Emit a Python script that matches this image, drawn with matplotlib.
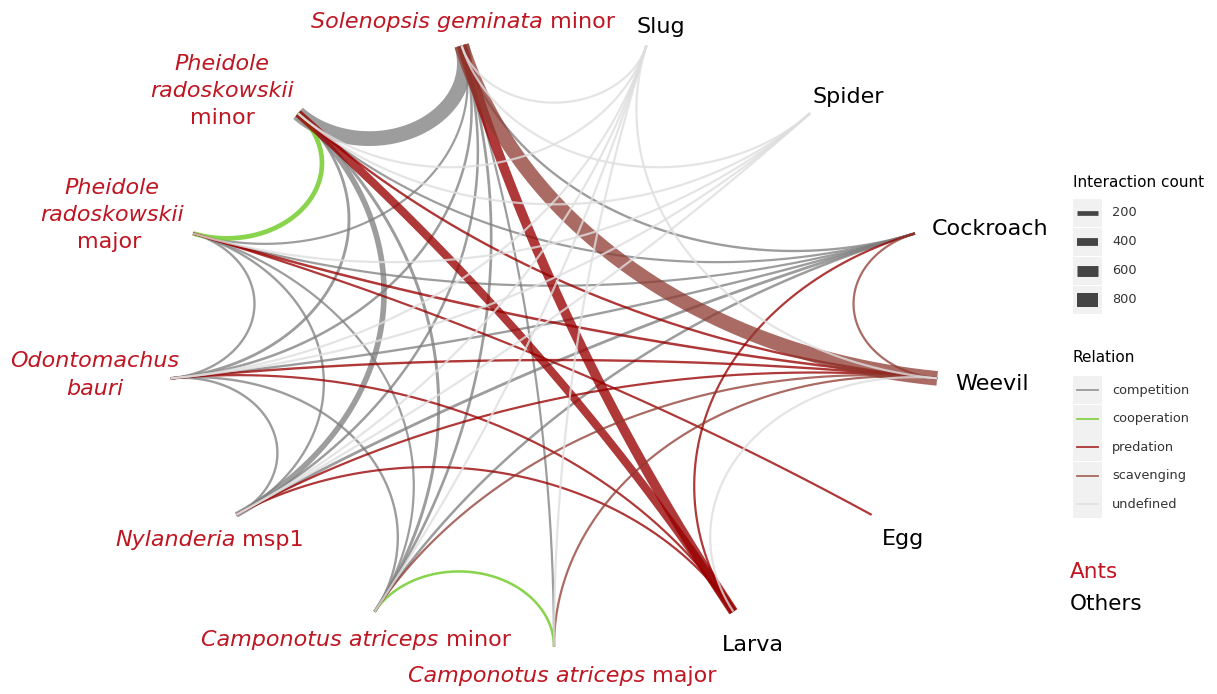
import numpy as np
import matplotlib
matplotlib.use("Agg")
import matplotlib.pyplot as plt
from matplotlib.patches import Rectangle

# ---------------- data ----------------
node_keys = ["CAmaj", "Larva", "Egg", "Weevil", "Cockroach", "Spider", "Slug",
             "SGmin", "PRmin", "PRmaj", "OB", "Nyl", "CAmin"]
node_is_ant = [True, False, False, False, False, False, False,
               True, True, True, True, True, True]

edge_from = ["SGmin", "SGmin", "SGmin", "SGmin", "SGmin", "SGmin",
             "PRmin", "PRmin", "PRmin", "PRmin",
             "PRmaj", "PRmaj", "PRmaj", "PRmaj",
             "OB", "OB", "OB", "Nyl", "CAmin", "SGmin",
             "PRmin", "CAmin",
             "SGmin", "PRmin", "PRmaj", "PRmaj", "OB", "OB", "Nyl", "Nyl", "PRmin", "Cockroach",
             "SGmin", "CAmaj", "CAmin", "Cockroach",
             "Slug", "Slug", "Slug", "Slug", "Slug", "Slug", "Slug",
             "Spider", "Spider", "Spider", "Spider", "Spider", "Weevil"]
edge_to = ["PRmin", "PRmaj", "OB", "Nyl", "CAmin", "Cockroach",
           "OB", "Nyl", "CAmin", "Cockroach",
           "OB", "Nyl", "CAmin", "Cockroach",
           "Nyl", "CAmin", "Cockroach", "Cockroach", "Cockroach", "CAmaj",
           "PRmaj", "CAmaj",
           "Larva", "Larva", "Weevil", "Egg", "Weevil", "Larva", "Weevil", "Larva", "Weevil", "Larva",
           "Weevil", "Weevil", "Weevil", "Weevil",
           "SGmin", "PRmin", "OB", "Nyl", "CAmin", "CAmaj", "Weevil",
           "SGmin", "PRmin", "PRmaj", "OB", "Nyl", "Larva"]
edge_relation = (["competition"] * 20 + ["cooperation"] * 2 + ["predation"] * 10
                 + ["scavenging"] * 4 + ["undefined"] * 13)
edge_count = [850, 40, 60, 60, 70, 50,
              80, 260, 90, 40,
              50, 50, 40, 40,
              50, 50, 50, 80, 60, 40,
              200, 60,
              520, 420, 60, 40, 50, 40, 40, 40, 50, 40,
              840, 40, 40, 40,
              40, 40, 40, 40, 40, 40, 40,
              40, 40, 40, 40, 40, 40]

legend_counts = [200, 400, 600, 800]
relations = ["competition", "cooperation", "predation", "scavenging", "undefined"]

# ---------------- styles ----------------
rel_color = {"competition": ("#7d7d7d", 0.75),
             "cooperation": ("#74cc2e", 0.85),
             "predation": ("#990000", 0.78),
             "scavenging": ("#8e3a30", 0.75),
             "undefined": ("#dedede", 0.8)}
ANT_RED = "#be1622"

W, H = 1217, 694
CX, CY, RX, RY = 554.0, 341.6, 386.0, 305.0

fig = plt.figure(figsize=(W / 100, H / 100), dpi=100)
ax = fig.add_axes([0, 0, 1, 1])
ax.set_xlim(0, W)
ax.set_ylim(H, 0)
ax.axis("off")

n = len(node_keys)
angles = {k: np.deg2rad(-90 + i * 360.0 / n) for i, k in enumerate(node_keys)}


def to_px(u, v):
    return CX + RX * u, CY - RY * v


def geodesic(a, b, npts=200):
    p1 = np.array([np.cos(a), np.sin(a)])
    p2 = np.array([np.cos(b), np.sin(b)])
    d = (b - a + np.pi) % (2 * np.pi) - np.pi
    if abs(abs(d) - np.pi) < 1e-3:
        t = np.linspace(0, 1, npts)
        pts = p1[None, :] * (1 - t)[:, None] + p2[None, :] * t[:, None]
        return pts[:, 0], pts[:, 1]
    m = a + d / 2
    half = abs(d) / 2
    c = np.array([np.cos(m), np.sin(m)]) / np.cos(half)
    r = np.tan(half)
    f1 = np.arctan2(*(p1 - c)[::-1])
    f2 = np.arctan2(*(p2 - c)[::-1])
    df = (f2 - f1 + np.pi) % (2 * np.pi) - np.pi
    f = f1 + np.linspace(0, 1, npts) * df
    return c[0] + r * np.cos(f), c[1] + r * np.sin(f)


def width_pt(count):
    return (1.6 + 0.0155 * count) * 0.72


order = ["competition", "cooperation", "predation", "scavenging", "undefined"]
for rel in order:
    for f, t, rr, cnt in zip(edge_from, edge_to, edge_relation, edge_count):
        if rr != rel:
            continue
        u, v = geodesic(angles[f], angles[t])
        x, y = to_px(u, v)
        col, al = rel_color[rel]
        ax.plot(x, y, color=col, alpha=al, lw=width_pt(cnt),
                solid_capstyle="butt", zorder=2)

# ---------------- labels ----------------
renderer = fig.canvas.get_renderer()
LBL = 16


def mixed(x, y, parts, ha, color, size=LBL):
    texts, widths = [], []
    for s, st in parts:
        t = ax.text(0, 0, s, fontsize=size, style=st, color=color,
                    va="center", ha="left", zorder=5)
        widths.append(t.get_window_extent(renderer=renderer).width)
        texts.append(t)
    total = sum(widths)
    x0 = x - total / 2 if ha == "center" else (x - total if ha == "right" else x)
    for t, w in zip(texts, widths):
        t.set_position((x0, y))
        x0 += w


I, N = "italic", "normal"
mixed(463, 22, [("Solenopsis geminata", I), (" minor", N)], "center", ANT_RED)
mixed(222, 64, [("Pheidole", I)], "center", ANT_RED)
mixed(222, 91, [("radoskowskii", I)], "center", ANT_RED)
mixed(222, 118, [("minor", N)], "center", ANT_RED)
mixed(112, 188, [("Pheidole", I)], "center", ANT_RED)
mixed(112, 215, [("radoskowskii", I)], "center", ANT_RED)
mixed(109, 242, [("major", N)], "center", ANT_RED)
mixed(95, 361, [("Odontomachus", I)], "center", ANT_RED)
mixed(95, 389, [("bauri", I)], "center", ANT_RED)
mixed(304, 540, [("Nylanderia", I), (" msp1", N)], "right", ANT_RED)
mixed(356, 640, [("Camponotus atriceps", I), (" minor", N)], "center", ANT_RED)
mixed(562, 676, [("Camponotus atriceps", I), (" major", N)], "center", ANT_RED)
mixed(636, 27, [("Slug", N)], "left", "black")
mixed(812, 97, [("Spider", N)], "left", "black")
mixed(932, 229, [("Cockroach", N)], "left", "black")
mixed(955, 384, [("Weevil", N)], "left", "black")
mixed(882, 539, [("Egg", N)], "left", "black")
mixed(722, 645, [("Larva", N)], "left", "black")

# ---------------- legends ----------------
KEYBG = "#f1f1f1"
ax.text(1073, 182, "Interaction count", fontsize=11, va="center", ha="left", color="black")
for i, c in enumerate(legend_counts):
    yc = 213 + i * 29
    ax.add_patch(Rectangle((1073, yc - 14), 29, 28, facecolor=KEYBG, edgecolor="none", zorder=1))
    ax.plot([1077, 1098], [yc, yc], color="#444444", lw=width_pt(c), solid_capstyle="butt", zorder=3)
    ax.text(1112, yc - 1, str(c), fontsize=9.3, va="center", ha="left", color="#333333")

ax.text(1073, 357, "Relation", fontsize=11, va="center", ha="left", color="black")
for i, rel in enumerate(relations):
    yc = 390 + i * 28.5
    ax.add_patch(Rectangle((1073, yc - 14), 29, 28, facecolor=KEYBG, edgecolor="none", zorder=1))
    col, al = rel_color[rel]
    ax.plot([1077, 1098], [yc, yc], color=col, alpha=al, lw=1.3, zorder=3)
    ax.text(1112, yc, rel, fontsize=9.3, va="center", ha="left", color="#333333")

ax.text(1070, 572, "Ants", fontsize=15.5, va="center", ha="left", color=ANT_RED)
ax.text(1070, 604, "Others", fontsize=15.5, va="center", ha="left", color="black")

fig.savefig("out.png", dpi=100)
